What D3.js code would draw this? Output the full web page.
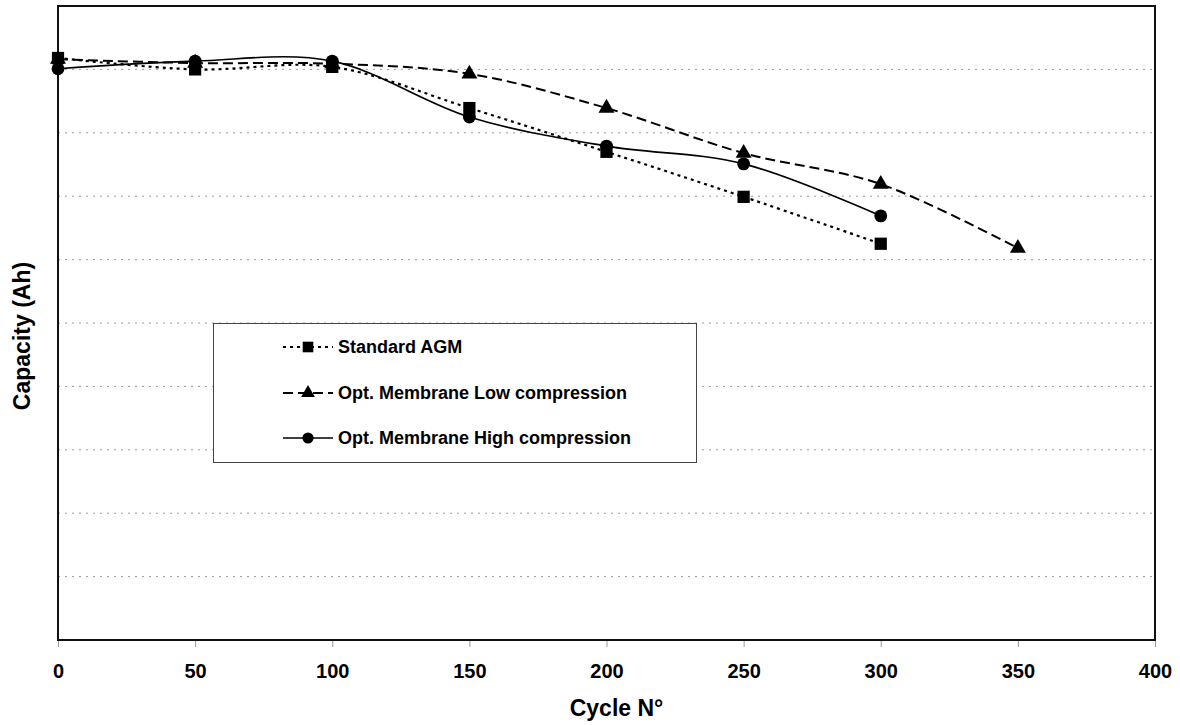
<!DOCTYPE html>
<html>
<head>
<meta charset="utf-8">
<script src="https://cdn.jsdelivr.net/npm/d3@7/dist/d3.min.js"></script>
<style>
  html, body { margin: 0; padding: 0; background: #fff; }
  svg { display: block; font-family: "Liberation Sans", Arial, Helvetica, sans-serif; }
</style>
</head>
<body>
<svg id="chart" width="1180" height="725"></svg>
<script>
// Cycle numbers at which capacity was measured
const cycles = [0, 50, 100, 150, 200, 250, 300, 350];

// Capacity readings per separator type (relative scale, 0–100)
const standardAGM = [91.8, 90.0, 90.4, 83.9, 77.0, 69.9, 62.5];
const lowCompression = [91.6, 91.0, 90.9, 89.3, 83.9, 76.8, 71.9, 61.8];
const highCompression = [90.1, 91.3, 91.3, 82.5, 77.9, 75.1, 66.9];

const xTicks = [0, 50, 100, 150, 200, 250, 300, 350, 400];
const yGrid = [10, 20, 30, 40, 50, 60, 70, 80, 90];

const seriesNames = ["Standard AGM", "Opt. Membrane Low compression", "Opt. Membrane High compression"];

const svg = d3.select("#chart");
const plot = { left: 58, top: 6, right: 1155, bottom: 640 };

const x = d3.scaleLinear().domain([0, 400]).range([plot.left, plot.right]);
const y = d3.scaleLinear().domain([0, 100]).range([plot.bottom, plot.top]);

// horizontal dotted gridlines
svg.append("g").selectAll("line").data(yGrid).join("line")
  .attr("x1", plot.left).attr("x2", plot.right)
  .attr("y1", d => y(d)).attr("y2", d => y(d))
  .attr("stroke", "#9a9a9a").attr("stroke-width", 1)
  .attr("stroke-dasharray", "2,5");

// x axis with ticks hanging below the frame
const xAxis = d3.axisBottom(x).tickValues(xTicks).tickSize(7).tickPadding(17);
const gx = svg.append("g").attr("transform", `translate(0,${plot.bottom})`).call(xAxis);
gx.select(".domain").remove();
gx.selectAll(".tick line").attr("stroke", "#999").attr("stroke-width", 1);
gx.selectAll(".tick text")
  .attr("font-family", "Liberation Sans, Arial, sans-serif")
  .attr("font-size", 20).attr("font-weight", "bold").attr("fill", "#000");

// plot frame
svg.append("rect")
  .attr("x", plot.left).attr("y", plot.top)
  .attr("width", plot.right - plot.left).attr("height", plot.bottom - plot.top)
  .attr("fill", "none").attr("stroke", "#111").attr("stroke-width", 2);

// axis titles
svg.append("text")
  .attr("x", (plot.left + plot.right) / 2 + 10).attr("y", 716)
  .attr("text-anchor", "middle")
  .attr("font-size", 23).attr("font-weight", "bold")
  .text("Cycle N°");

svg.append("text")
  .attr("transform", `translate(30,${(plot.top + plot.bottom) / 2 + 13}) rotate(-90)`)
  .attr("text-anchor", "middle")
  .attr("font-size", 23).attr("font-weight", "bold")
  .text("Capacity (Ah)");

const series = [
  { name: seriesNames[0], values: standardAGM, dash: "3,4", width: 2.2, symbol: d3.symbolSquare, size: 150 },
  { name: seriesNames[1], values: lowCompression, dash: "10,5", width: 2, symbol: d3.symbolTriangle, size: 110 },
  { name: seriesNames[2], values: highCompression, dash: null, width: 1.7, symbol: d3.symbolCircle, size: 130 }
];

const line = d3.line()
  .x((d, i) => x(cycles[i]))
  .y(d => y(d))
  .curve(d3.curveCardinal.tension(0));

const gSeries = svg.append("g");
// draw lines first, then markers on top
series.forEach(s => {
  gSeries.append("path")
    .datum(s.values)
    .attr("d", line)
    .attr("fill", "none")
    .attr("stroke", "#000")
    .attr("stroke-width", s.width)
    .attr("stroke-dasharray", s.dash);
});
[series[2], series[1], series[0]].forEach(s => {
  gSeries.append("g").selectAll("path").data(s.values).join("path")
    .attr("transform", (d, i) => `translate(${x(cycles[i])},${y(d)})`)
    .attr("d", d3.symbol().type(s.symbol).size(s.size))
    .attr("fill", "#000");
});

// legend
const legend = svg.append("g");
legend.append("rect")
  .attr("x", 213.5).attr("y", 323.5).attr("width", 483).attr("height", 139)
  .attr("fill", "#fff").attr("stroke", "#444").attr("stroke-width", 1);

const legendRows = [347, 393, 438];
series.forEach((s, i) => {
  const cy = legendRows[i];
  legend.append("line")
    .attr("x1", 283).attr("x2", 333).attr("y1", cy).attr("y2", cy)
    .attr("stroke", "#000").attr("stroke-width", s.width)
    .attr("stroke-dasharray", s.dash);
  legend.append("path")
    .attr("transform", `translate(308,${cy})`)
    .attr("d", d3.symbol().type(s.symbol).size(s.size * 0.75))
    .attr("fill", "#000");
  legend.append("text")
    .attr("x", 338).attr("y", cy + 6)
    .attr("font-size", 18).attr("font-weight", "bold")
    .text(s.name);
});
</script>
</body>
</html>
